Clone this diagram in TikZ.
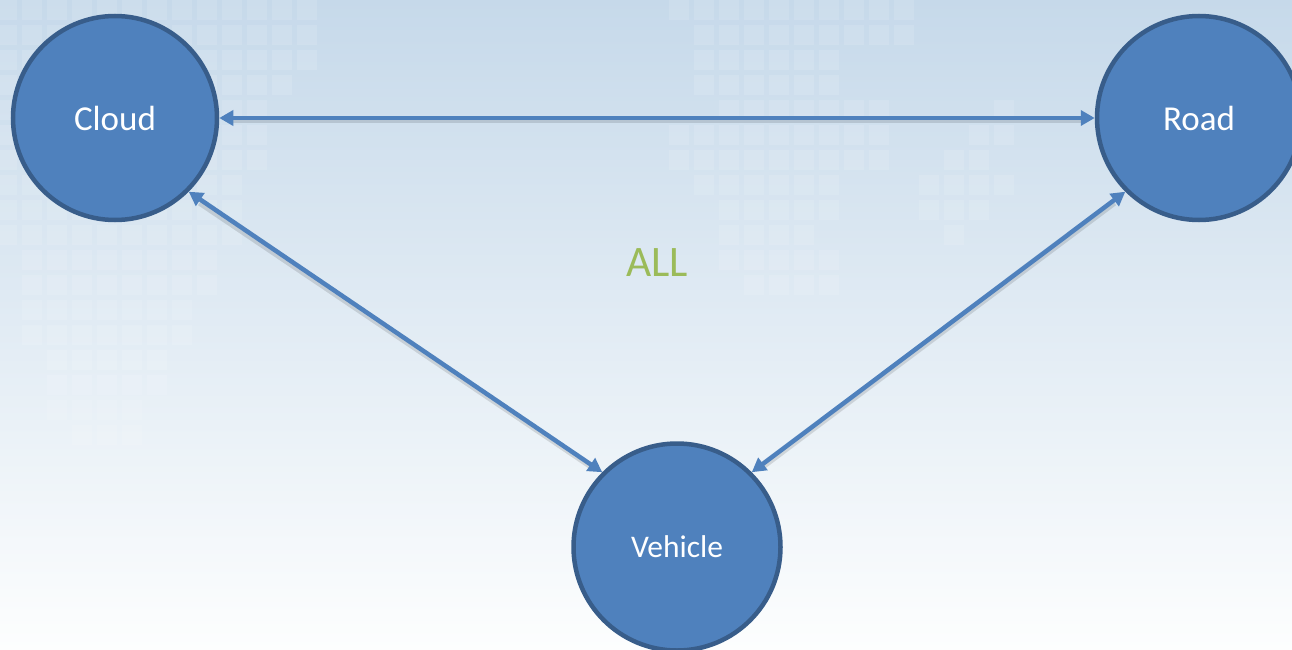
\documentclass[tikz,border=0pt]{standalone}
\usepackage{fontspec}
\setmainfont{Carlito}
\usetikzlibrary{arrows.meta}
\definecolor{nodefill}{HTML}{4F81BD}
\definecolor{nodeedge}{HTML}{385D8A}
\definecolor{allgreen}{HTML}{9BBB59}
\definecolor{bgtop}{HTML}{C6D9EA}
\definecolor{bgmid}{HTML}{E8EFF7}
\definecolor{bgbot}{HTML}{FDFEFE}
\begin{document}
\begin{tikzpicture}[x=1pt,y=-1pt,
  entity/.style={circle, draw=nodeedge, line width=4.5pt, fill=nodefill, text=white,
    minimum size=204pt, inner sep=0pt, font=\fontsize{35}{40}\selectfont},
  link/.style={draw=nodefill, line width=4.5pt, {Triangle[length=14pt,width=15pt]}-{Triangle[length=14pt,width=15pt]}},
  linkshadow/.style={draw=black, draw opacity=0.12, line width=6pt},
  tile/.style={fill=white, fill opacity=0.12}]
\useasboundingbox (0,0) rectangle (1292,650);
\clip (0,0) rectangle (1292,650);
% background
\shade[top color=bgtop, middle color=bgmid, bottom color=bgbot] (0,0) rectangle (1292,650);
% faint tiles, left block
\foreach \r/\a/\b in {0/0/12,1/0/12,2/0/12,3/0/11,4/0/10,5/0/10,6/0/10,7/0/9,8/0/9,9/0/9,10/1/8,11/1/8,12/1/7,13/1/7,14/2/6,15/2/6,16/2/5,17/3/5}{
  \foreach \c in {\a,...,\b}{
    \fill[tile] (-3+25*\c, 25*\r) rectangle ++(20,20);
  }
}
% faint tiles, centre block
\foreach \r/\a/\b in {0/0/9,1/1/9,2/1/6,3/1/6,4/2/8,5/0/8,6/0/8,7/1/6,8/2/6,9/2/5,10/2/6,11/3/6}{
  \foreach \c in {\a,...,\b}{
    \fill[tile] (669+25*\c, 25*\r) rectangle ++(20,20);
  }
}
\foreach \r/\c in {4/13,5/12,5/13,6/11,6/12,7/10,7/11,7/12,7/13,8/10,8/11,8/12,9/11}{
  \fill[tile] (669+25*\c, 25*\r) rectangle ++(20,20);
}
% nodes
\node[entity] (cloud) at (115,118) {Cloud};
\node[entity] (road) at (1199,118) {Road};
\node[entity, minimum size=207pt, font=\fontsize{31.5}{36}\selectfont] (vehicle) at (677,547) {Vehicle};
\node[text=allgreen, font=\fontsize{43.5}{50}\selectfont] (all) at (657,263) {ALL};
% connector shadows
\draw[linkshadow] ([shift={(14,2.5)}]cloud.east) -- ([shift={(-14,2.5)}]road.west);
\draw[linkshadow] ([shift={(11,11)}]cloud.south east) -- ([shift={(-10,-5)}]vehicle.north west);
\draw[linkshadow] ([shift={(-11,11)}]road.south west) -- ([shift={(10,-5)}]vehicle.north east);
% connectors
\draw[link] (cloud.east) -- (road.west);
\draw[link] (cloud.south east) -- (vehicle.north west);
\draw[link] (road.south west) -- (vehicle.north east);
\end{tikzpicture}
\end{document}
